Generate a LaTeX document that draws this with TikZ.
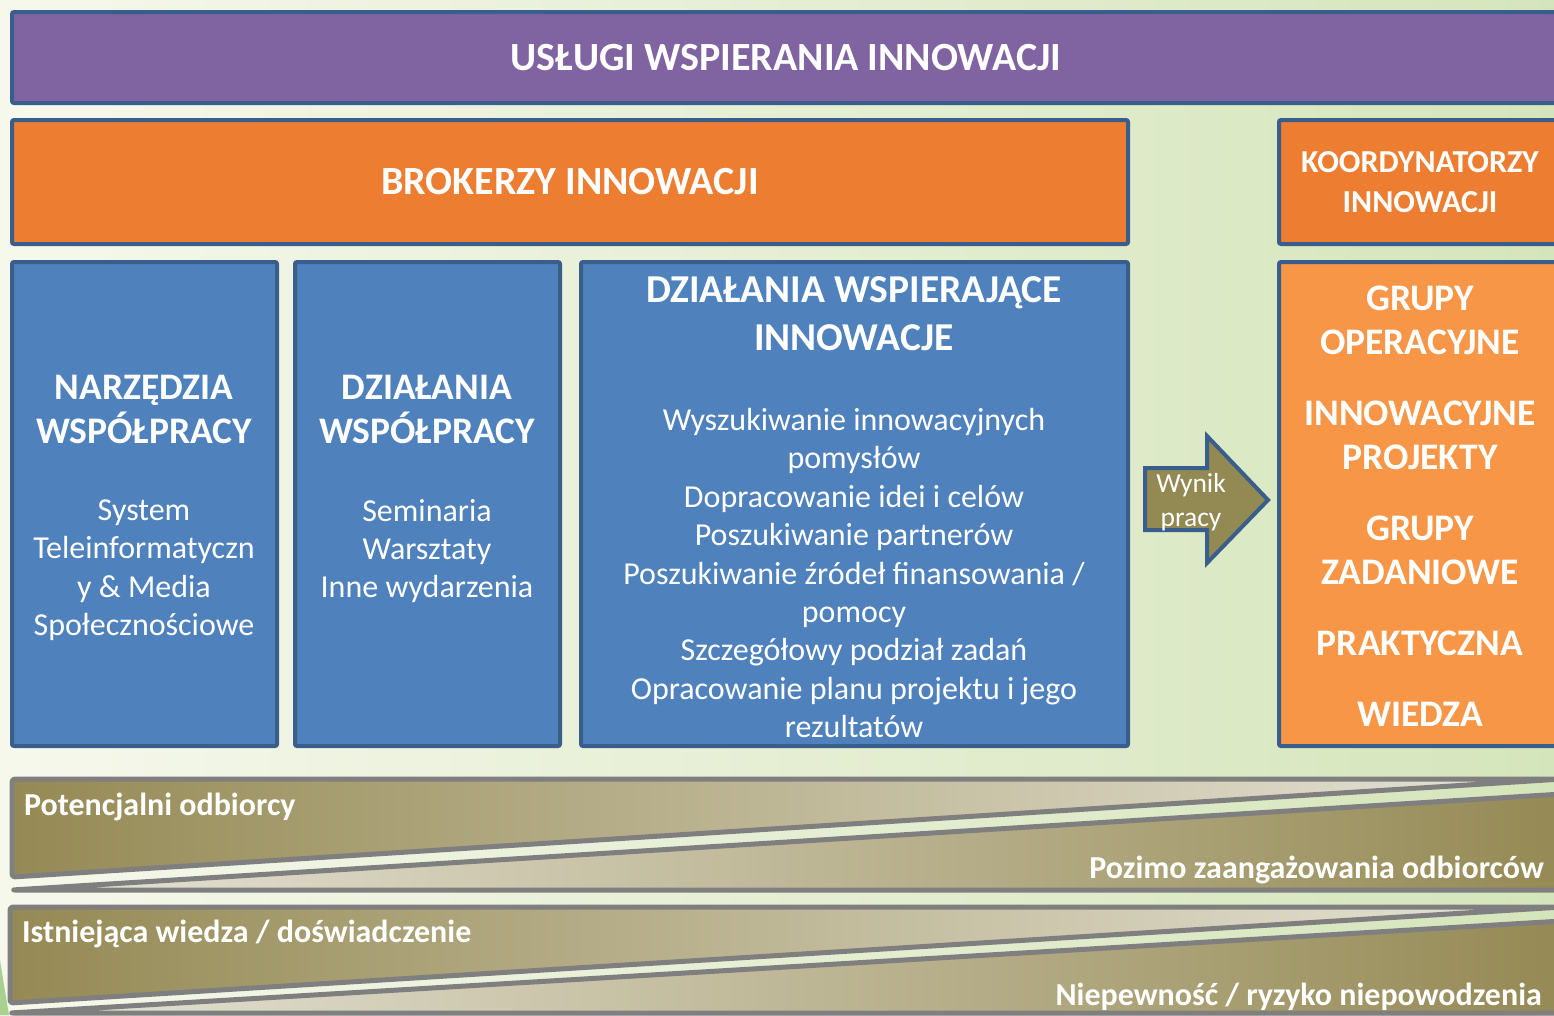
\documentclass[tikz,border=0pt]{standalone}
\usepackage{fontspec}
\setmainfont{Carlito}
\usetikzlibrary{positioning}
\usepackage{xcolor}

\definecolor{bgleft}{HTML}{F6F8EC}
\definecolor{bgright}{HTML}{D5E5BB}
\definecolor{boxline}{HTML}{3A5E8C}
\definecolor{uslugi}{HTML}{8064A2}
\definecolor{broker}{HTML}{ED7D31}
\definecolor{grupy}{HTML}{F79646}
\definecolor{blok}{HTML}{4F81BD}
\definecolor{wynik}{HTML}{938953}
\definecolor{bandline}{HTML}{7F7F7F}
\definecolor{banddark}{HTML}{958A55}
\definecolor{bandlight}{HTML}{E8E5D9}
\definecolor{leaf}{HTML}{A9D08E}

\begin{document}
\begin{tikzpicture}[x=1pt, y=-1pt]
    % Define styles
    \tikzset{
        box/.style={
            draw=boxline,
            line width=4pt,
            rounded corners=2pt,
            anchor=north west,
            inner sep=0pt,
            text=white
        },
        title text/.style={font=\bfseries\fontsize{40}{48}\selectfont},
        head text/.style={text=white, align=center, font=\bfseries\fontsize{37.5}{44}\selectfont},
        body text/.style={text=white, align=center, font=\fontsize{32}{38.4}\selectfont},
        band/.style={draw=bandline, line width=5pt, rounded corners=3pt, line join=round},
        band text/.style={text=white, inner sep=0pt, font=\bfseries\fontsize{32}{38}\selectfont}
    }

    \useasboundingbox (0,0) rectangle (1554,1015);
    \clip (0,0) rectangle (1554,1015);

    % Background
    \shade[left color=bgleft, right color=bgright] (0,0) rectangle (1554,1015);
    \fill[leaf] (0,960) .. controls (4,985) .. (9,1015) -- (0,1015) -- cycle;

    % Top bars
    \node[box, fill=uslugi, minimum width=1548, minimum height=91, title text] (uslugi) at (10,10) {USŁUGI WSPIERANIA INNOWACJI};
    \node[box, fill=broker, minimum width=1116, minimum height=124, title text] (brokerzy) at (10,118) {BROKERZY INNOWACJI};
    \node[box, fill=broker, minimum width=282, minimum height=124, align=center,
          font=\bfseries\fontsize{32}{40}\selectfont] (koord) at (1277,118) {KOORDYNATORZY\\INNOWACJI};

    % Blue blocks
    \node[box, fill=blok, minimum width=265, minimum height=484] (b1) at (10,260) {};
    \node[box, fill=blok, minimum width=265, minimum height=484] (b2) at (293,260) {};
    \node[box, fill=blok, minimum width=547, minimum height=484] (b3) at (579,260) {};
    \node[box, fill=grupy, minimum width=282, minimum height=484] (grupy) at (1277,260) {};

    \node[head text] (b1head) at (144,409) {NARZĘDZIA\\WSPÓŁPRACY};
    \node[body text] (b1body) at (144,570) {System\\Teleinformatyczn\\y \& Media\\Społecznościowe};

    \node[head text] (b2head) at (427,409) {DZIAŁANIA\\WSPÓŁPRACY};
    \node[body text] (b2body) at (427,551) {Seminaria\\Warsztaty\\Inne wydarzenia};

    \node[head text, font=\bfseries\fontsize{39.5}{48}\selectfont] (b3head) at (854,314) {DZIAŁANIA WSPIERAJĄCE\\INNOWACJE};
    \node[body text] (b3body) at (854,573) {Wyszukiwanie innowacyjnych\\pomysłów\\Dopracowanie idei i celów\\Poszukiwanie partnerów\\Poszukiwanie źródeł finansowania /\\pomocy\\Szczegółowy podział zadań\\Opracowanie planu projektu i jego\\rezultatów};

    \node[head text] (grupytext) at (1420,506) {GRUPY\\OPERACYJNE\\[27pt]INNOWACYJNE\\PROJEKTY\\[27pt]GRUPY\\ZADANIOWE\\[27pt]PRAKTYCZNA\\[27pt]WIEDZA};

    % Arrow
    \draw[fill=wynik, draw=boxline, line width=4pt, line join=miter]
        (1145,468) -- (1207,468) -- (1207,436) -- (1268,500) -- (1207,563) -- (1207,530) -- (1145,530) -- cycle;
    \node[text=white, align=center, font=\fontsize{27.5}{34}\selectfont] (wyniktext) at (1191,502) {Wynik\\pracy};

    % Bottom bands
    \draw[band, left color=banddark, right color=bandlight] (12,779) -- (1562,779) -- (12,877) -- cycle;
    \draw[band, left color=bandlight, right color=banddark] (12,890) -- (1562,890) -- (1562,794) -- cycle;
    \draw[band, left color=banddark, right color=bandlight] (10,907) -- (1562,907) -- (10,1003) -- cycle;
    \draw[band, left color=bandlight, right color=banddark] (10,1013) -- (1562,1013) -- (1562,921) -- cycle;

    \node[band text, anchor=base west] (odbiorcy) at (24,815) {Potencjalni odbiorcy};
    \node[band text, anchor=base east] (zaang) at (1544,878) {Pozimo zaangażowania odbiorców};
    \node[band text, anchor=base west] (wiedza) at (22,942) {Istniejąca wiedza / doświadczenie};
    \node[band text, anchor=base east] (ryzyko) at (1542,1005) {Niepewność / ryzyko niepowodzenia};

\end{tikzpicture}
\end{document}
